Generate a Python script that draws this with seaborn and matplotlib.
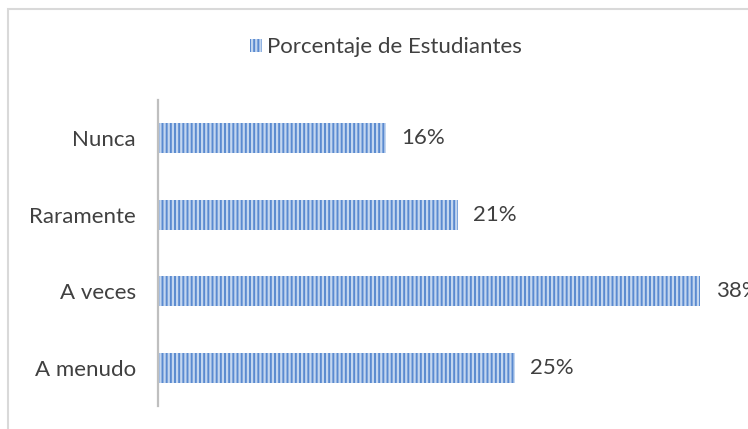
import matplotlib
matplotlib.use("Agg")
import matplotlib.pyplot as plt
import seaborn as sns
import pandas as pd
from matplotlib.patches import Rectangle, Patch

categories = ["Nunca", "Raramente", "A veces", "A menudo"]
values = [16, 21, 38, 25]
series_name = "Porcentaje de Estudiantes"

sns.set_style("white")
plt.rcParams["font.family"] = ["Lato", "DejaVu Sans"]
plt.rcParams["hatch.linewidth"] = 1.6

df = pd.DataFrame({"cat": categories, "val": values})

W, H = 748, 429
fig = plt.figure(figsize=(W / 100, H / 100), dpi=100)
ax = fig.add_axes([158 / W, 23 / H, (729 - 158) / W, (406 - 100) / H])

face = "#5a8ad0"
hatch_col = "#c3d6ef"
sns.barplot(data=df, x="val", y="cat", orient="h", ax=ax, width=0.39,
            color=face, saturation=1)
for p in ax.patches:
    p.set_facecolor(face)
    p.set_edgecolor(hatch_col)
    p.set_hatch("||||")
    p.set_linewidth(0)

ax.set_xlim(0, 40)
ax.set_ylim(3.5, -0.5)
ax.set_xlabel("")
ax.set_ylabel("")
ax.set_xticks([])
for s in ["top", "right", "bottom"]:
    ax.spines[s].set_visible(False)
ax.spines["left"].set_color("#bfbfbf")
ax.spines["left"].set_linewidth(1.6)
ax.tick_params(axis="y", length=0, pad=16, labelsize=16, labelcolor="#404040")

ax.bar_label(ax.containers[0], labels=[f"{v}%" for v in values], padding=11,
             fontsize=16, color="#404040")

handle = Patch(facecolor=face, edgecolor=hatch_col, hatch="||||", linewidth=0)
fig.legend([handle], [series_name], loc="center", bbox_to_anchor=(0.516, 0.89),
           frameon=False, fontsize=16, labelcolor="#404040", handlelength=0.55,
           handleheight=0.55, handletextpad=0.25)

fig.patches.append(Rectangle((8 / W, -0.1), 1.1, (H - 9) / H + 0.1,
                             transform=fig.transFigure, fill=False,
                             edgecolor="#d9d9d9", linewidth=1.5))

fig.savefig("out.png", dpi=100)
